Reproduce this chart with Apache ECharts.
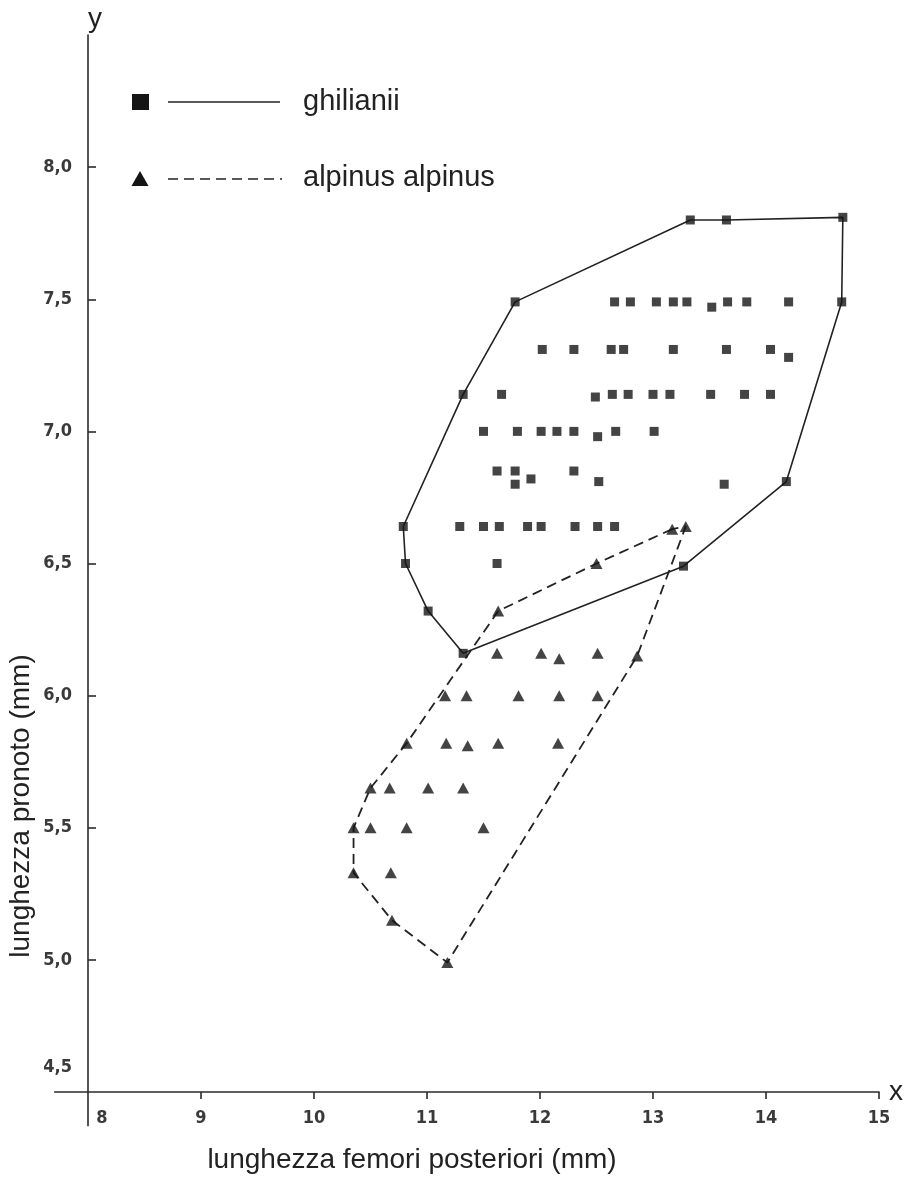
<!DOCTYPE html>
<html>
<head>
<meta charset="utf-8">
<script src="https://cdn.jsdelivr.net/npm/echarts@6/dist/echarts.min.js"></script>
<style>
html,body{margin:0;padding:0;background:#fff;}
#chart{width:911px;height:1177px;}
</style>
</head>
<body>
<div id="chart"></div>
<script>
// ---- data ----
const xTicks = [8, 9, 10, 11, 12, 13, 14, 15];
const yTicks = [4.5, 5.0, 5.5, 6.0, 6.5, 7.0, 7.5, 8.0];
const xTitle = 'lunghezza femori posteriori (mm)';
const yTitle = 'lunghezza pronoto (mm)';
const seriesNames = ['ghilianii', 'alpinus alpinus'];

const ghilianiiPoints = [
  [11.32,6.16],[11.01,6.32],[10.81,6.50],[10.79,6.64],[11.32,7.14],[11.78,7.49],
  [13.33,7.80],[13.65,7.80],[14.68,7.81],[14.67,7.49],[14.18,6.81],[13.27,6.49],
  [12.66,7.49],[12.80,7.49],[13.03,7.49],[13.18,7.49],[13.30,7.49],[13.52,7.47],[13.66,7.49],[13.83,7.49],[14.20,7.49],
  [12.02,7.31],[12.30,7.31],[12.63,7.31],[12.74,7.31],[13.18,7.31],[13.65,7.31],[14.04,7.31],[14.20,7.28],
  [11.66,7.14],[12.49,7.13],[12.64,7.14],[12.78,7.14],[13.00,7.14],[13.15,7.14],[13.51,7.14],[13.81,7.14],[14.04,7.14],
  [11.50,7.00],[11.80,7.00],[12.01,7.00],[12.15,7.00],[12.30,7.00],[12.51,6.98],[12.67,7.00],[13.01,7.00],
  [11.62,6.85],[11.78,6.85],[11.78,6.80],[11.92,6.82],[12.30,6.85],[12.52,6.81],[13.63,6.80],
  [11.29,6.64],[11.50,6.64],[11.64,6.64],[11.89,6.64],[12.01,6.64],[12.31,6.64],[12.51,6.64],[12.66,6.64],
  [11.62,6.50]
];
const ghilianiiHull = [
  [11.32,6.16],[11.01,6.32],[10.81,6.50],[10.79,6.64],[11.32,7.14],[11.78,7.49],
  [13.33,7.80],[13.65,7.80],[14.68,7.81],[14.67,7.49],[14.18,6.81],[13.27,6.49],[11.32,6.16]
];

const alpinusPoints = [
  [13.17,6.63],[13.29,6.64],[12.50,6.50],[11.63,6.32],
  [11.62,6.16],[12.01,6.16],[12.17,6.14],[12.51,6.16],[12.86,6.15],
  [11.16,6.00],[11.35,6.00],[11.81,6.00],[12.17,6.00],[12.51,6.00],
  [10.82,5.82],[11.17,5.82],[11.36,5.81],[11.63,5.82],[12.16,5.82],
  [10.50,5.65],[10.67,5.65],[11.01,5.65],[11.32,5.65],
  [10.35,5.50],[10.50,5.50],[10.82,5.50],[11.50,5.50],
  [10.35,5.33],[10.68,5.33],
  [10.69,5.15],
  [11.18,4.99]
];
const alpinusHull = [
  [13.17,6.63],[12.50,6.50],[11.63,6.32],[10.82,5.82],[10.50,5.65],[10.35,5.50],
  [10.35,5.33],[10.69,5.15],[11.18,4.99],[12.86,6.15],[13.29,6.64],[13.17,6.63]
];

// axis extensions beyond the plotting frame (as in the drawing), in data units
const xAxisExtension = [[7.70, 4.5], [8, 4.5]];
const yAxisExtension = [[8, 4.5], [8, 4.37]];

// ---- chart ----
const INK = '#151515';
const AXIS = '#2a2a2a';
const tickFont = '"DejaVu Sans Condensed", "Liberation Sans Narrow", sans-serif';
const textFont = '"Liberation Sans", Arial, Helvetica, sans-serif';

const chart = echarts.init(document.getElementById('chart'), null, {renderer: 'canvas'});

const tickLabelStyle = {fontFamily: tickFont, fontSize: 18, fontWeight: 'bold', color: '#3a3a3a'};

const option = {
  backgroundColor: '#ffffff',
  animation: false,
  grid: {left: 88, right: 32, top: 35, bottom: 85, containLabel: false},
  xAxis: {
    type: 'value', min: 8, max: 15, interval: 1,
    name: 'x', nameLocation: 'end', nameGap: 10,
    nameTextStyle: {fontFamily: textFont, fontSize: 28, color: '#222', verticalAlign: 'middle', padding: [0,0,4,0]},
    axisLine: {show: true, lineStyle: {color: AXIS, width: 1.6}},
    axisTick: {show: true, inside: false, length: 7, lineStyle: {color: AXIS, width: 1.6},
               customValues: xTicks.slice(1)},
    axisLabel: Object.assign({
      customValues: xTicks,
      margin: 17,
      formatter: v => v === xTicks[0] ? '{r|' + v + '}' : String(v),
      rich: {r: Object.assign({padding: [0,0,0,28]}, tickLabelStyle)}
    }, tickLabelStyle),
    splitLine: {show: false}
  },
  yAxis: {
    type: 'value', min: 4.5, max: 8.5, interval: 0.5,
    name: 'y', nameLocation: 'end', nameGap: 2,
    nameTextStyle: {fontFamily: textFont, fontSize: 28, color: '#222', padding: [0,0,0,14]},
    axisLine: {show: true, lineStyle: {color: AXIS, width: 1.6}},
    axisTick: {show: true, inside: true, length: 8, lineStyle: {color: AXIS, width: 1.6},
               customValues: yTicks.slice(1)},
    axisLabel: Object.assign({
      customValues: yTicks,
      margin: 16,
      formatter: v => {
        const s = v.toFixed(1).replace('.', ',');
        return v === yTicks[0] ? '{u|' + s + '}' : s;
      },
      rich: {u: Object.assign({padding: [0,0,50,0]}, tickLabelStyle)}
    }, tickLabelStyle),
    splitLine: {show: false}
  },
  series: [
    {
      name: seriesNames[0] + ' hull', type: 'line', data: ghilianiiHull, symbol: 'none',
      lineStyle: {color: '#222', width: 1.6}, z: 2
    },
    {
      name: seriesNames[1] + ' hull', type: 'line', data: alpinusHull, symbol: 'none',
      lineStyle: {color: '#222', width: 1.8, type: [10, 6]}, z: 2
    },
    {
      name: seriesNames[0], type: 'scatter', data: ghilianiiPoints,
      symbol: 'rect', symbolSize: 9, itemStyle: {color: INK}, z: 3
    },
    {
      name: seriesNames[1], type: 'scatter', data: alpinusPoints,
      symbol: 'triangle', symbolSize: [12, 11], itemStyle: {color: INK}, z: 3
    }
  ],
  graphic: [
    // legend
    {type: 'rect', shape: {x: 132, y: 94, width: 17, height: 16}, style: {fill: INK}},
    {type: 'line', shape: {x1: 168, y1: 102, x2: 280, y2: 102}, style: {stroke: '#222', lineWidth: 1.6}},
    {type: 'text', x: 303, y: 102, style: {text: seriesNames[0], font: '29px ' + textFont, fill: '#222', textVerticalAlign: 'middle'}},
    {type: 'polygon', shape: {points: [[140, 171], [148.5, 186], [131.5, 186]]}, style: {fill: INK}},
    {type: 'line', shape: {x1: 168, y1: 179, x2: 282, y2: 179}, style: {stroke: '#222', lineWidth: 1.6, lineDash: [10, 6]}},
    {type: 'text', x: 303, y: 178, style: {text: seriesNames[1], font: '29px ' + textFont, fill: '#222', textVerticalAlign: 'middle'}},
    // axis titles
    {type: 'text', x: 412, y: 1160, style: {text: xTitle, font: '28px ' + textFont, fill: '#222', textAlign: 'center', textVerticalAlign: 'middle'}},
    {type: 'text', x: 21, y: 806, rotation: Math.PI / 2, style: {text: yTitle, font: '28px ' + textFont, fill: '#222', textAlign: 'center', textVerticalAlign: 'middle'}}
  ]
};
chart.setOption(option);

// axis-line extensions, placed through the chart's own scales
const toPx = p => chart.convertToPixel({gridIndex: 0}, p);
const ext = [xAxisExtension, yAxisExtension].map((seg, i) => {
  const a = toPx(seg[0]), b = toPx(seg[1]);
  return {type: 'line', id: 'axisExt' + i, z: 5, shape: {x1: a[0], y1: a[1], x2: b[0], y2: b[1]},
          style: {stroke: AXIS, lineWidth: 1.6}};
});
chart.setOption({graphic: option.graphic.concat(ext)});
</script>
</body>
</html>
